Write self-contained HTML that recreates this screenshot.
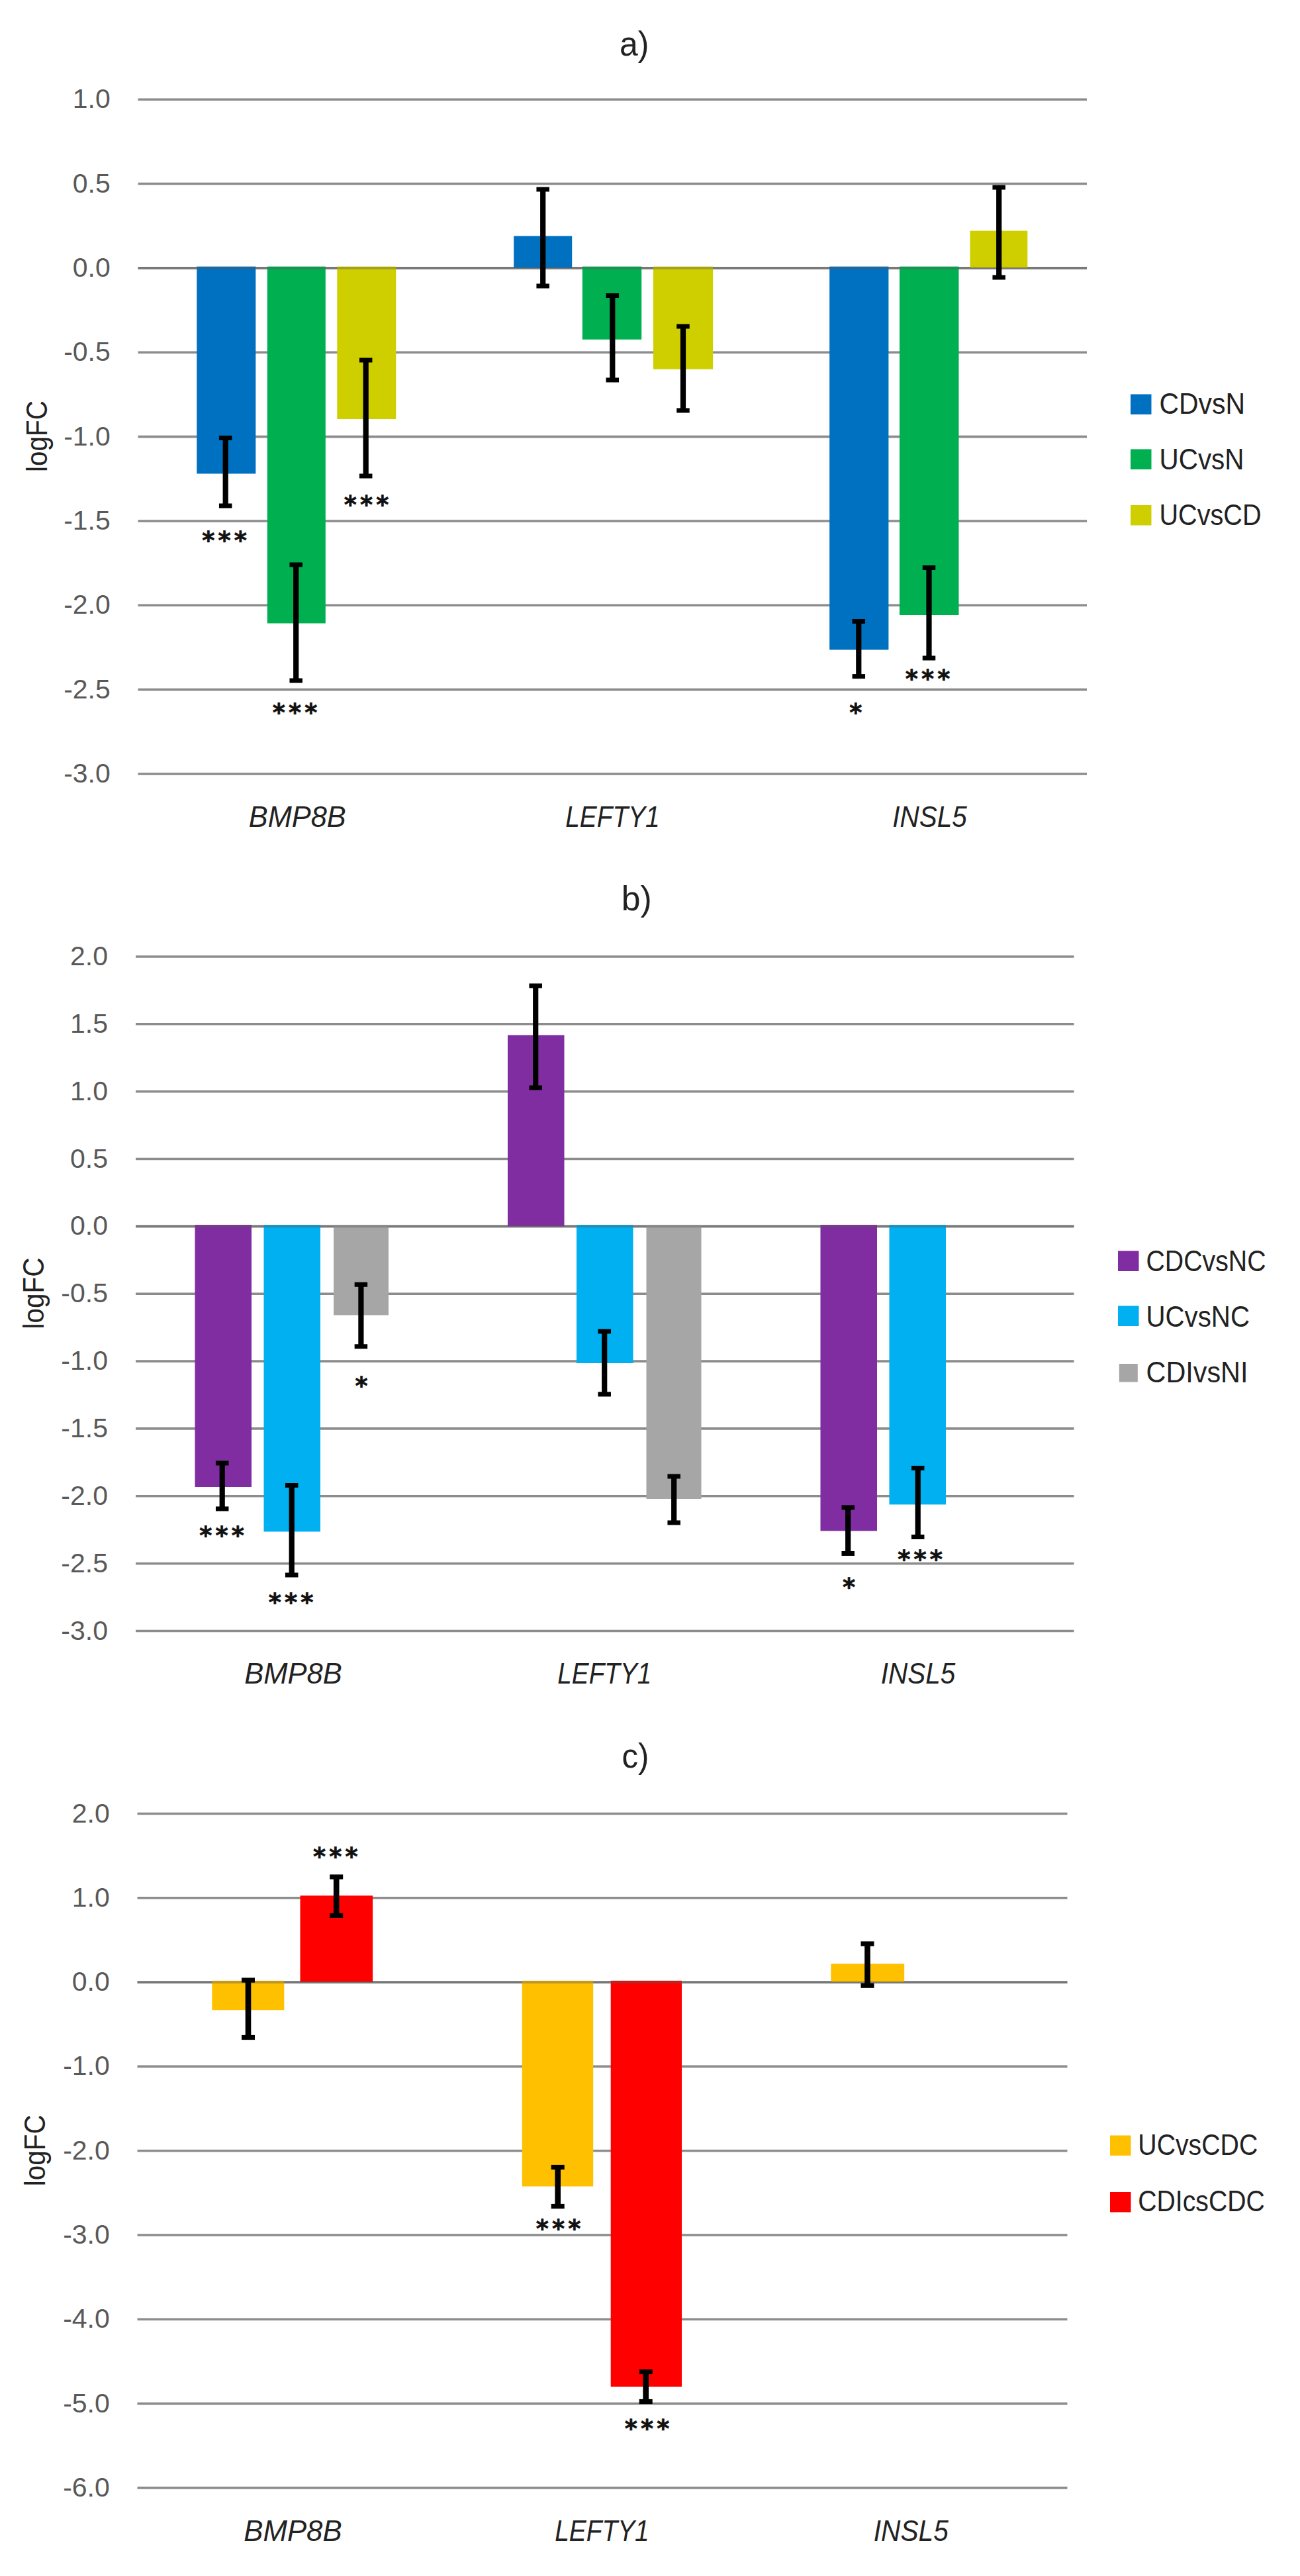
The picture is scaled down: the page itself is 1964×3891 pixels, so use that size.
<!DOCTYPE html>
<html lang="en">
<head>
<meta charset="utf-8">
<title>logFC bar charts a) b) c)</title>
<style>
html,body{margin:0;padding:0;background:#fff;}
body{width:1964px;height:3891px;overflow:hidden;}
svg{display:block;font-family:"Liberation Sans", sans-serif;}
</style>
</head>
<body>
<svg width="1964" height="3891" viewBox="0 0 1964 3891">
<rect width="1964" height="3891" fill="#ffffff"/>
<line x1="208.5" y1="150.2" x2="1642" y2="150.2" stroke="#8c8c8c" stroke-width="3.6"/>
<line x1="208.5" y1="277.5" x2="1642" y2="277.5" stroke="#8c8c8c" stroke-width="3.6"/>
<line x1="208.5" y1="404.9" x2="1642" y2="404.9" stroke="#8c8c8c" stroke-width="3.6"/>
<line x1="208.5" y1="532.2" x2="1642" y2="532.2" stroke="#8c8c8c" stroke-width="3.6"/>
<line x1="208.5" y1="659.6" x2="1642" y2="659.6" stroke="#8c8c8c" stroke-width="3.6"/>
<line x1="208.5" y1="787.0" x2="1642" y2="787.0" stroke="#8c8c8c" stroke-width="3.6"/>
<line x1="208.5" y1="914.3" x2="1642" y2="914.3" stroke="#8c8c8c" stroke-width="3.6"/>
<line x1="208.5" y1="1041.6" x2="1642" y2="1041.6" stroke="#8c8c8c" stroke-width="3.6"/>
<line x1="208.5" y1="1169.0" x2="1642" y2="1169.0" stroke="#8c8c8c" stroke-width="3.6"/>
<text x="166.8" y="163.2" text-anchor="end" font-size="41" fill="#595959">1.0</text>
<text x="166.8" y="290.5" text-anchor="end" font-size="41" fill="#595959">0.5</text>
<text x="166.8" y="417.9" text-anchor="end" font-size="41" fill="#595959">0.0</text>
<text x="166.8" y="545.2" text-anchor="end" font-size="41" fill="#595959">-0.5</text>
<text x="166.8" y="672.6" text-anchor="end" font-size="41" fill="#595959">-1.0</text>
<text x="166.8" y="800.0" text-anchor="end" font-size="41" fill="#595959">-1.5</text>
<text x="166.8" y="927.3" text-anchor="end" font-size="41" fill="#595959">-2.0</text>
<text x="166.8" y="1054.6" text-anchor="end" font-size="41" fill="#595959">-2.5</text>
<text x="166.8" y="1182.0" text-anchor="end" font-size="41" fill="#595959">-3.0</text>
<rect x="297.3" y="402.6" width="89.0" height="312.9" fill="#0070c0"/>
<rect x="403.8" y="402.6" width="88.0" height="538.9" fill="#00b050"/>
<rect x="509.3" y="402.6" width="89.0" height="230.4" fill="#cfcf00"/>
<rect x="776.2" y="356.5" width="88.0" height="48.4" fill="#0070c0"/>
<rect x="879.8" y="402.6" width="89.4" height="110.2" fill="#00b050"/>
<rect x="987.0" y="402.6" width="90.0" height="155.1" fill="#cfcf00"/>
<rect x="1253.2" y="402.6" width="89.2" height="578.9" fill="#0070c0"/>
<rect x="1359.0" y="402.6" width="89.5" height="526.4" fill="#00b050"/>
<rect x="1465.5" y="348.6" width="86.8" height="56.3" fill="#cfcf00"/>
<line x1="208.5" y1="404.9" x2="1642" y2="404.9" stroke="#5a5a5a" stroke-opacity="0.4" stroke-width="3.6"/>
<rect x="336.60" y="661.5" width="8.2" height="102.5" fill="#000"/>
<rect x="330.95" y="658.00" width="19.5" height="7.0" fill="#000"/>
<rect x="330.95" y="760.50" width="19.5" height="7.0" fill="#000"/>
<rect x="443.10" y="853.0" width="8.2" height="175.0" fill="#000"/>
<rect x="437.45" y="849.50" width="19.5" height="7.0" fill="#000"/>
<rect x="437.45" y="1024.50" width="19.5" height="7.0" fill="#000"/>
<rect x="548.60" y="544.0" width="8.2" height="175.0" fill="#000"/>
<rect x="542.95" y="540.50" width="19.5" height="7.0" fill="#000"/>
<rect x="542.95" y="715.50" width="19.5" height="7.0" fill="#000"/>
<rect x="816.10" y="286.0" width="8.2" height="146.0" fill="#000"/>
<rect x="810.45" y="282.50" width="19.5" height="7.0" fill="#000"/>
<rect x="810.45" y="428.50" width="19.5" height="7.0" fill="#000"/>
<rect x="921.20" y="446.5" width="8.2" height="127.5" fill="#000"/>
<rect x="915.55" y="443.00" width="19.5" height="7.0" fill="#000"/>
<rect x="915.55" y="570.50" width="19.5" height="7.0" fill="#000"/>
<rect x="1027.90" y="493.0" width="8.2" height="127.0" fill="#000"/>
<rect x="1022.25" y="489.50" width="19.5" height="7.0" fill="#000"/>
<rect x="1022.25" y="616.50" width="19.5" height="7.0" fill="#000"/>
<rect x="1293.20" y="938.5" width="8.2" height="83.1" fill="#000"/>
<rect x="1287.55" y="935.00" width="19.5" height="7.0" fill="#000"/>
<rect x="1287.55" y="1018.10" width="19.5" height="7.0" fill="#000"/>
<rect x="1399.40" y="857.5" width="8.2" height="136.5" fill="#000"/>
<rect x="1393.75" y="854.00" width="19.5" height="7.0" fill="#000"/>
<rect x="1393.75" y="990.50" width="19.5" height="7.0" fill="#000"/>
<rect x="1505.10" y="283.0" width="8.2" height="136.0" fill="#000"/>
<rect x="1499.45" y="279.50" width="19.5" height="7.0" fill="#000"/>
<rect x="1499.45" y="415.50" width="19.5" height="7.0" fill="#000"/>
<text x="314.8 339.0 363.2" y="828.9" text-anchor="middle" font-family="DejaVu Sans, sans-serif" font-size="36.5" font-weight="bold" fill="#111" stroke="#111" stroke-width="0.7">***</text>
<text x="421.3 445.5 469.7" y="1089.2" text-anchor="middle" font-family="DejaVu Sans, sans-serif" font-size="36.5" font-weight="bold" fill="#111" stroke="#111" stroke-width="0.7">***</text>
<text x="529.3 553.5 577.7" y="775.2" text-anchor="middle" font-family="DejaVu Sans, sans-serif" font-size="36.5" font-weight="bold" fill="#111" stroke="#111" stroke-width="0.7">***</text>
<text x="1292.8" y="1089.2" text-anchor="middle" font-family="DejaVu Sans, sans-serif" font-size="36.5" font-weight="bold" fill="#111" stroke="#111" stroke-width="0.7">*</text>
<text x="1377.4 1401.6 1425.8" y="1038.4" text-anchor="middle" font-family="DejaVu Sans, sans-serif" font-size="36.5" font-weight="bold" fill="#111" stroke="#111" stroke-width="0.7">***</text>
<text x="958.3" y="83.5" text-anchor="middle" font-size="52" fill="#222222" textLength="44.5" lengthAdjust="spacingAndGlyphs">a)</text>
<text x="375.8" y="1248.5" font-size="44" font-style="italic" fill="#222222" textLength="147.0" lengthAdjust="spacingAndGlyphs">BMP8B</text>
<text x="854.2" y="1248.5" font-size="44" font-style="italic" fill="#222222" textLength="142.5" lengthAdjust="spacingAndGlyphs">LEFTY1</text>
<text x="1348.2" y="1248.5" font-size="44" font-style="italic" fill="#222222" textLength="112.5" lengthAdjust="spacingAndGlyphs">INSL5</text>
<text transform="translate(71,713.0) rotate(-90)" font-size="45" fill="#222222" textLength="108" lengthAdjust="spacingAndGlyphs">logFC</text>
<rect x="1708" y="595.5" width="31.5" height="30.5" fill="#0070c0"/>
<text x="1751.5" y="625" font-size="44" fill="#222222" textLength="129.5" lengthAdjust="spacingAndGlyphs">CDvsN</text>
<rect x="1708" y="678.5" width="31.5" height="30.5" fill="#00b050"/>
<text x="1751.5" y="709" font-size="44" fill="#222222" textLength="128" lengthAdjust="spacingAndGlyphs">UCvsN</text>
<rect x="1708" y="763" width="31.5" height="30.5" fill="#cfcf00"/>
<text x="1751.5" y="793" font-size="44" fill="#222222" textLength="154" lengthAdjust="spacingAndGlyphs">UCvsCD</text>
<line x1="205" y1="1445.0" x2="1622.5" y2="1445.0" stroke="#8c8c8c" stroke-width="3.6"/>
<line x1="205" y1="1546.8" x2="1622.5" y2="1546.8" stroke="#8c8c8c" stroke-width="3.6"/>
<line x1="205" y1="1648.7" x2="1622.5" y2="1648.7" stroke="#8c8c8c" stroke-width="3.6"/>
<line x1="205" y1="1750.5" x2="1622.5" y2="1750.5" stroke="#8c8c8c" stroke-width="3.6"/>
<line x1="205" y1="1852.4" x2="1622.5" y2="1852.4" stroke="#8c8c8c" stroke-width="3.6"/>
<line x1="205" y1="1954.2" x2="1622.5" y2="1954.2" stroke="#8c8c8c" stroke-width="3.6"/>
<line x1="205" y1="2056.1" x2="1622.5" y2="2056.1" stroke="#8c8c8c" stroke-width="3.6"/>
<line x1="205" y1="2157.9" x2="1622.5" y2="2157.9" stroke="#8c8c8c" stroke-width="3.6"/>
<line x1="205" y1="2259.8" x2="1622.5" y2="2259.8" stroke="#8c8c8c" stroke-width="3.6"/>
<line x1="205" y1="2361.7" x2="1622.5" y2="2361.7" stroke="#8c8c8c" stroke-width="3.6"/>
<line x1="205" y1="2463.5" x2="1622.5" y2="2463.5" stroke="#8c8c8c" stroke-width="3.6"/>
<text x="163" y="1458.0" text-anchor="end" font-size="41" fill="#595959">2.0</text>
<text x="163" y="1559.8" text-anchor="end" font-size="41" fill="#595959">1.5</text>
<text x="163" y="1661.7" text-anchor="end" font-size="41" fill="#595959">1.0</text>
<text x="163" y="1763.5" text-anchor="end" font-size="41" fill="#595959">0.5</text>
<text x="163" y="1865.4" text-anchor="end" font-size="41" fill="#595959">0.0</text>
<text x="163" y="1967.2" text-anchor="end" font-size="41" fill="#595959">-0.5</text>
<text x="163" y="2069.1" text-anchor="end" font-size="41" fill="#595959">-1.0</text>
<text x="163" y="2170.9" text-anchor="end" font-size="41" fill="#595959">-1.5</text>
<text x="163" y="2272.8" text-anchor="end" font-size="41" fill="#595959">-2.0</text>
<text x="163" y="2374.7" text-anchor="end" font-size="41" fill="#595959">-2.5</text>
<text x="163" y="2476.5" text-anchor="end" font-size="41" fill="#595959">-3.0</text>
<rect x="294.5" y="1850.1" width="85.5" height="395.9" fill="#7f2da0"/>
<rect x="398.5" y="1850.1" width="85.5" height="463.4" fill="#00b0f0"/>
<rect x="504.0" y="1850.1" width="83.0" height="136.4" fill="#a6a6a6"/>
<rect x="767.0" y="1563.5" width="85.5" height="288.9" fill="#7f2da0"/>
<rect x="871.0" y="1850.1" width="85.5" height="208.9" fill="#00b0f0"/>
<rect x="976.5" y="1850.1" width="83.0" height="413.9" fill="#a6a6a6"/>
<rect x="1239.5" y="1850.1" width="85.5" height="462.4" fill="#7f2da0"/>
<rect x="1343.5" y="1850.1" width="85.5" height="422.4" fill="#00b0f0"/>
<line x1="205" y1="1852.4" x2="1622.5" y2="1852.4" stroke="#5a5a5a" stroke-opacity="0.4" stroke-width="3.6"/>
<rect x="331.60" y="2210.0" width="8.2" height="69.0" fill="#000"/>
<rect x="325.95" y="2206.50" width="19.5" height="7.0" fill="#000"/>
<rect x="325.95" y="2275.50" width="19.5" height="7.0" fill="#000"/>
<rect x="436.60" y="2243.5" width="8.2" height="135.5" fill="#000"/>
<rect x="430.95" y="2240.00" width="19.5" height="7.0" fill="#000"/>
<rect x="430.95" y="2375.50" width="19.5" height="7.0" fill="#000"/>
<rect x="541.30" y="1940.3" width="8.2" height="93.5" fill="#000"/>
<rect x="535.65" y="1936.80" width="19.5" height="7.0" fill="#000"/>
<rect x="535.65" y="2030.30" width="19.5" height="7.0" fill="#000"/>
<rect x="805.10" y="1489.0" width="8.2" height="154.0" fill="#000"/>
<rect x="799.45" y="1485.50" width="19.5" height="7.0" fill="#000"/>
<rect x="799.45" y="1639.50" width="19.5" height="7.0" fill="#000"/>
<rect x="909.10" y="2011.0" width="8.2" height="95.0" fill="#000"/>
<rect x="903.45" y="2007.50" width="19.5" height="7.0" fill="#000"/>
<rect x="903.45" y="2102.50" width="19.5" height="7.0" fill="#000"/>
<rect x="1014.10" y="2230.0" width="8.2" height="70.0" fill="#000"/>
<rect x="1008.45" y="2226.50" width="19.5" height="7.0" fill="#000"/>
<rect x="1008.45" y="2296.50" width="19.5" height="7.0" fill="#000"/>
<rect x="1277.10" y="2277.0" width="8.2" height="69.5" fill="#000"/>
<rect x="1271.45" y="2273.50" width="19.5" height="7.0" fill="#000"/>
<rect x="1271.45" y="2343.00" width="19.5" height="7.0" fill="#000"/>
<rect x="1382.60" y="2217.5" width="8.2" height="104.0" fill="#000"/>
<rect x="1376.95" y="2214.00" width="19.5" height="7.0" fill="#000"/>
<rect x="1376.95" y="2318.00" width="19.5" height="7.0" fill="#000"/>
<text x="310.8 335.0 359.2" y="2331.6" text-anchor="middle" font-family="DejaVu Sans, sans-serif" font-size="36.5" font-weight="bold" fill="#111" stroke="#111" stroke-width="0.7">***</text>
<text x="415.3 439.5 463.7" y="2432.6" text-anchor="middle" font-family="DejaVu Sans, sans-serif" font-size="36.5" font-weight="bold" fill="#111" stroke="#111" stroke-width="0.7">***</text>
<text x="546.0" y="2105.9" text-anchor="middle" font-family="DejaVu Sans, sans-serif" font-size="36.5" font-weight="bold" fill="#111" stroke="#111" stroke-width="0.7">*</text>
<text x="1282.5" y="2410.1" text-anchor="middle" font-family="DejaVu Sans, sans-serif" font-size="36.5" font-weight="bold" fill="#111" stroke="#111" stroke-width="0.7">*</text>
<text x="1365.8 1390.0 1414.2" y="2367.6" text-anchor="middle" font-family="DejaVu Sans, sans-serif" font-size="36.5" font-weight="bold" fill="#111" stroke="#111" stroke-width="0.7">***</text>
<text x="961.8" y="1374.5" text-anchor="middle" font-size="52" fill="#222222" textLength="46" lengthAdjust="spacingAndGlyphs">b)</text>
<text x="369.2" y="2542.5" font-size="44" font-style="italic" fill="#222222" textLength="147.5" lengthAdjust="spacingAndGlyphs">BMP8B</text>
<text x="842.3" y="2542.5" font-size="44" font-style="italic" fill="#222222" textLength="142.0" lengthAdjust="spacingAndGlyphs">LEFTY1</text>
<text x="1330.8" y="2542.5" font-size="44" font-style="italic" fill="#222222" textLength="112.5" lengthAdjust="spacingAndGlyphs">INSL5</text>
<text transform="translate(66.3,2007.5) rotate(-90)" font-size="45" fill="#222222" textLength="108" lengthAdjust="spacingAndGlyphs">logFC</text>
<rect x="1689" y="1889.5" width="31.5" height="30.5" fill="#7f2da0"/>
<text x="1731.5" y="1919.5" font-size="44" fill="#222222" textLength="181" lengthAdjust="spacingAndGlyphs">CDCvsNC</text>
<rect x="1689" y="1972.5" width="31.5" height="30.5" fill="#00b0f0"/>
<text x="1731.5" y="2003.5" font-size="44" fill="#222222" textLength="156.5" lengthAdjust="spacingAndGlyphs">UCvsNC</text>
<rect x="1690.8" y="2060.0" width="28" height="27.5" fill="#a6a6a6"/>
<text x="1731.5" y="2087.5" font-size="44" fill="#222222" textLength="154" lengthAdjust="spacingAndGlyphs">CDIvsNI</text>
<line x1="207.5" y1="2739.5" x2="1612.5" y2="2739.5" stroke="#8c8c8c" stroke-width="3.6"/>
<line x1="207.5" y1="2866.8" x2="1612.5" y2="2866.8" stroke="#8c8c8c" stroke-width="3.6"/>
<line x1="207.5" y1="2994.1" x2="1612.5" y2="2994.1" stroke="#8c8c8c" stroke-width="3.6"/>
<line x1="207.5" y1="3121.4" x2="1612.5" y2="3121.4" stroke="#8c8c8c" stroke-width="3.6"/>
<line x1="207.5" y1="3248.7" x2="1612.5" y2="3248.7" stroke="#8c8c8c" stroke-width="3.6"/>
<line x1="207.5" y1="3376.0" x2="1612.5" y2="3376.0" stroke="#8c8c8c" stroke-width="3.6"/>
<line x1="207.5" y1="3503.3" x2="1612.5" y2="3503.3" stroke="#8c8c8c" stroke-width="3.6"/>
<line x1="207.5" y1="3630.6" x2="1612.5" y2="3630.6" stroke="#8c8c8c" stroke-width="3.6"/>
<line x1="207.5" y1="3757.9" x2="1612.5" y2="3757.9" stroke="#8c8c8c" stroke-width="3.6"/>
<text x="165.8" y="2752.5" text-anchor="end" font-size="41" fill="#595959">2.0</text>
<text x="165.8" y="2879.8" text-anchor="end" font-size="41" fill="#595959">1.0</text>
<text x="165.8" y="3007.1" text-anchor="end" font-size="41" fill="#595959">0.0</text>
<text x="165.8" y="3134.4" text-anchor="end" font-size="41" fill="#595959">-1.0</text>
<text x="165.8" y="3261.7" text-anchor="end" font-size="41" fill="#595959">-2.0</text>
<text x="165.8" y="3389.0" text-anchor="end" font-size="41" fill="#595959">-3.0</text>
<text x="165.8" y="3516.3" text-anchor="end" font-size="41" fill="#595959">-4.0</text>
<text x="165.8" y="3643.6" text-anchor="end" font-size="41" fill="#595959">-5.0</text>
<text x="165.8" y="3770.9" text-anchor="end" font-size="41" fill="#595959">-6.0</text>
<rect x="320.3" y="2991.8" width="109.0" height="44.4" fill="#ffc000"/>
<rect x="453.5" y="2863.3" width="109.6" height="130.8" fill="#ff0000"/>
<rect x="788.8" y="2991.8" width="107.4" height="310.7" fill="#ffc000"/>
<rect x="922.7" y="2991.8" width="107.3" height="613.2" fill="#ff0000"/>
<rect x="1255.4" y="2966.2" width="110.8" height="27.9" fill="#ffc000"/>
<line x1="207.5" y1="2994.1" x2="1612.5" y2="2994.1" stroke="#5a5a5a" stroke-opacity="0.4" stroke-width="3.6"/>
<rect x="370.70" y="2991.0" width="8.6" height="86.5" fill="#000"/>
<rect x="365.00" y="2987.40" width="20" height="7.2" fill="#000"/>
<rect x="365.00" y="3073.90" width="20" height="7.2" fill="#000"/>
<rect x="503.90" y="2835.0" width="8.6" height="58.4" fill="#000"/>
<rect x="498.20" y="2831.40" width="20" height="7.2" fill="#000"/>
<rect x="498.20" y="2889.80" width="20" height="7.2" fill="#000"/>
<rect x="838.40" y="3273.5" width="8.6" height="59.0" fill="#000"/>
<rect x="832.70" y="3269.90" width="20" height="7.2" fill="#000"/>
<rect x="832.70" y="3328.90" width="20" height="7.2" fill="#000"/>
<rect x="971.40" y="3582.5" width="8.6" height="45.0" fill="#000"/>
<rect x="965.70" y="3578.90" width="20" height="7.2" fill="#000"/>
<rect x="965.70" y="3623.90" width="20" height="7.2" fill="#000"/>
<rect x="1306.20" y="2936.0" width="8.6" height="63.2" fill="#000"/>
<rect x="1300.50" y="2932.40" width="20" height="7.2" fill="#000"/>
<rect x="1300.50" y="2995.60" width="20" height="7.2" fill="#000"/>
<text x="482.6 506.8 531.0" y="2816.6" text-anchor="middle" font-family="DejaVu Sans, sans-serif" font-size="36.5" font-weight="bold" fill="#111" stroke="#111" stroke-width="0.7">***</text>
<text x="819.3 843.5 867.7" y="3378.6" text-anchor="middle" font-family="DejaVu Sans, sans-serif" font-size="36.5" font-weight="bold" fill="#111" stroke="#111" stroke-width="0.7">***</text>
<text x="953.3 977.5 1001.7" y="3681.1" text-anchor="middle" font-family="DejaVu Sans, sans-serif" font-size="36.5" font-weight="bold" fill="#111" stroke="#111" stroke-width="0.7">***</text>
<text x="960" y="2670" text-anchor="middle" font-size="52" fill="#222222" textLength="41" lengthAdjust="spacingAndGlyphs">c)</text>
<text x="368.2" y="3837.5" font-size="44" font-style="italic" fill="#222222" textLength="148.5" lengthAdjust="spacingAndGlyphs">BMP8B</text>
<text x="838.2" y="3837.5" font-size="44" font-style="italic" fill="#222222" textLength="142.5" lengthAdjust="spacingAndGlyphs">LEFTY1</text>
<text x="1319.8" y="3837.5" font-size="44" font-style="italic" fill="#222222" textLength="113.0" lengthAdjust="spacingAndGlyphs">INSL5</text>
<text transform="translate(68,3302.3) rotate(-90)" font-size="45" fill="#222222" textLength="108" lengthAdjust="spacingAndGlyphs">logFC</text>
<rect x="1677" y="3225.5" width="31.5" height="30.5" fill="#ffc000"/>
<text x="1719.3" y="3255" font-size="44" fill="#222222" textLength="181" lengthAdjust="spacingAndGlyphs">UCvsCDC</text>
<rect x="1677" y="3311" width="31.5" height="30.5" fill="#ff0000"/>
<text x="1719.3" y="3339.5" font-size="44" fill="#222222" textLength="191.5" lengthAdjust="spacingAndGlyphs">CDIcsCDC</text>
</svg>
</body>
</html>
